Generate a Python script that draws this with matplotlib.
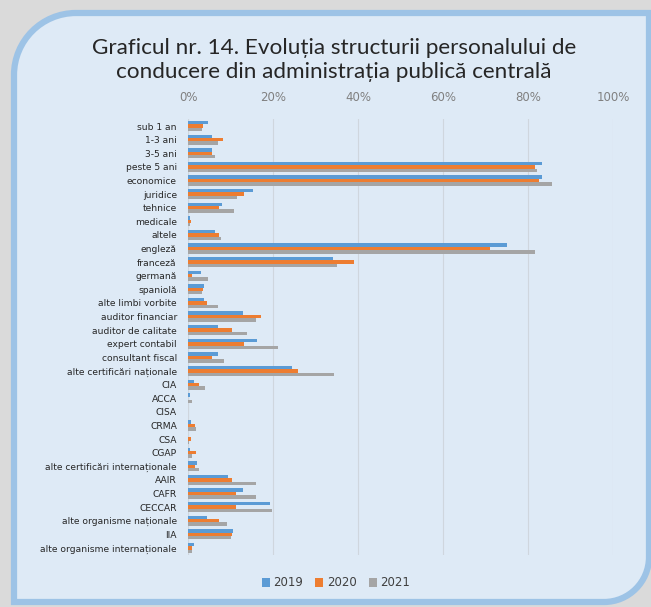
import matplotlib
matplotlib.use("Agg")
import matplotlib.pyplot as plt
import numpy as np
from matplotlib.path import Path
from matplotlib.patches import PathPatch

categories = ["sub 1 an", "1-3 ani", "3-5 ani", "peste 5 ani", "economice", "juridice",
              "tehnice", "medicale", "altele", "engleză", "franceză", "germană", "spaniolă",
              "alte limbi vorbite", "auditor financiar", "auditor de calitate",
              "expert contabil", "consultant fiscal", "alte certificări naționale",
              "CIA", "ACCA", "CISA", "CRMA", "CSA", "CGAP",
              "alte certificări internaționale", "AAIR", "CAFR", "CECCAR",
              "alte organisme naționale", "IIA", "alte organisme internaționale"]

v2019 = [4.6, 5.6, 5.6, 83.4, 83.4, 15.2, 8.1, 0.4, 6.4, 75.1, 34.2, 3.1, 3.8, 3.8,
         13.0, 7.1, 16.2, 7.1, 24.4, 1.4, 0.5, 0.0, 0.6, 0.0, 0.5, 2.0, 9.5, 13.0,
         19.3, 4.5, 10.5, 1.4]
v2020 = [3.6, 8.3, 5.6, 81.6, 82.6, 13.2, 7.3, 0.6, 7.3, 71.1, 39.1, 0.9, 3.5, 4.5,
         17.2, 10.3, 13.2, 5.6, 25.8, 2.6, 0.0, 0.0, 1.6, 0.6, 1.8, 1.6, 10.3, 11.2,
         11.2, 7.3, 10.4, 0.9]
v2021 = [3.2, 7.0, 6.4, 82.1, 85.6, 11.5, 10.8, 0.5, 7.8, 81.6, 35.1, 4.8, 3.2, 7.0,
         15.9, 13.8, 21.1, 8.5, 34.4, 4.1, 1.0, 0.0, 1.9, 0.3, 1.0, 2.6, 15.9, 15.9,
         19.7, 9.2, 10.0, 1.0]
series_names = ["2019", "2020", "2021"]
colors = ["#5B9BD5", "#ED7D31", "#A5A5A5"]
xticks = [0, 20, 40, 60, 80, 100]
title = "Graficul nr. 14. Evoluția structurii personalului de\nconducere din administrația publică centrală"

W, H = 651, 607
fig = plt.figure(figsize=(W / 100, H / 100), dpi=100)
fig.patch.set_facecolor("#dadada")

# background frame
bg = fig.add_axes([0, 0, 1, 1])
bg.set_xlim(0, W)
bg.set_ylim(H, 0)
bg.axis("off")
x0, y0, x1, y1 = 14, 13, 649, 602
rtl, rbr = 62, 45
k = 0.5523
verts = [(x0, y1), (x0, y0 + rtl),
         (x0, y0 + rtl * (1 - k)), (x0 + rtl * (1 - k), y0), (x0 + rtl, y0),
         (x1, y0), (x1, y1 - rbr),
         (x1, y1 - rbr * (1 - k)), (x1 - rbr * (1 - k), y1), (x1 - rbr, y1),
         (x0, y1), (x0, y1)]
codes = [Path.MOVETO, Path.LINETO, Path.CURVE4, Path.CURVE4, Path.CURVE4,
         Path.LINETO, Path.LINETO, Path.CURVE4, Path.CURVE4, Path.CURVE4,
         Path.LINETO, Path.CLOSEPOLY]
bg.add_patch(PathPatch(Path(verts, codes), facecolor="#DEEAF6", edgecolor="#9DC3E6", lw=4.5))

fig.text(334 / W, 1 - 60 / H, title, ha="center", va="center", fontsize=16.2,
         family="Lato", color="#262626", linespacing=1.22)

ax = fig.add_axes([188 / W, 1 - 554.8 / H, (613 - 188) / W, (554.8 - 119.2) / H])
ax.set_facecolor("none")
n = len(categories)
y = np.arange(n)
bh = 0.25
for i, (vals, c, nm) in enumerate(zip([v2019, v2020, v2021], colors, series_names)):
    ax.barh(y + (i - 1) * bh, vals, height=bh, color=c, label=nm, zorder=3)
ax.set_ylim(n - 0.5, -0.5)
ax.set_xlim(0, 100)
ax.set_xticks(xticks)
ax.set_xticklabels([f"{t}%" for t in xticks])
ax.xaxis.tick_top()
ax.tick_params(axis="x", length=0, labelsize=8.5, labelcolor="#808080", pad=11)
ax.set_yticks(y)
ax.set_yticklabels(categories)
ax.tick_params(axis="y", length=0, labelsize=6.6, labelcolor="#262626", pad=8)
for s in ax.spines.values():
    s.set_visible(False)
ax.grid(axis="x", color="#cfd6de", lw=0.8, zorder=0)
ax.axvline(0, color="#c8d0d8", lw=0.8, zorder=1)

handles, labels = ax.get_legend_handles_labels()
leg = fig.legend(handles, labels, loc="center", bbox_to_anchor=(336 / W, 1 - 583 / H),
                 ncol=3, frameon=False, fontsize=8.5, handlelength=0.7, handleheight=0.7,
                 handletextpad=0.3, columnspacing=1.0)
for t in leg.get_texts():
    t.set_color("#404040")

fig.savefig("out.png", dpi=100, facecolor=fig.get_facecolor())
